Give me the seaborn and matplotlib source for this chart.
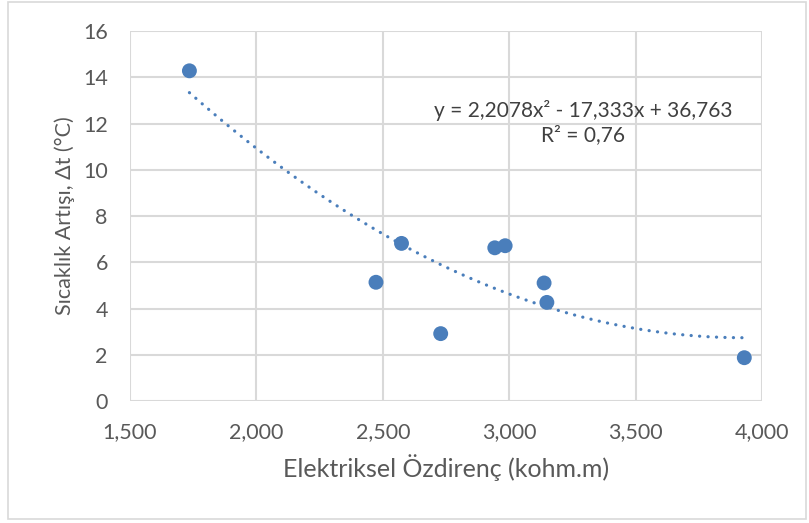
import numpy as np
import pandas as pd
import matplotlib
matplotlib.use("Agg")
import matplotlib.pyplot as plt
from matplotlib.ticker import FuncFormatter, MultipleLocator
from matplotlib.patches import Rectangle
import seaborn as sns

# Measured resistivity (thousand ohm.m) and temperature rise (°C)
resistivity = [1.735, 2.473, 2.574, 2.729, 2.943, 2.984, 3.138, 3.149, 3.930]
temp_rise = [14.28, 5.14, 6.82, 2.92, 6.63, 6.72, 5.11, 4.27, 1.88]

# Second-order polynomial trend: a*x^2 + b*x + c
trend_coef = [2.2078, -17.333, 36.763]
r_squared = 0.76

x_label = "Elektriksel Özdirenç (kohm.m)"
y_label = "Sıcaklık Artışı, Δt (°C)"

sns.set_theme(style="white")
plt.rcParams["font.family"] = ["Lato", "DejaVu Sans"]

df = pd.DataFrame({"x": resistivity, "y": temp_rise})

fig = plt.figure(figsize=(8.09, 5.23), dpi=100)
ax = fig.add_axes([0.1607, 0.2329, 0.7812, 0.7078])

# Chart border
fig.patches.append(Rectangle((8 / 809, 4 / 523), 798 / 809, 517 / 523,
                             transform=fig.transFigure, fill=False,
                             edgecolor="#D9D9D9", lw=1.2))

point_color = "#4A7EBB"

xs = np.linspace(min(resistivity), max(resistivity), 200)
trend = pd.DataFrame({"x": xs, "y": np.polyval(trend_coef, xs)})
sns.lineplot(data=trend, x="x", y="y", ax=ax, color=point_color, lw=2.3,
             linestyle=(0, (0.05, 2.6)), dash_capstyle="round", zorder=3)
sns.scatterplot(data=df, x="x", y="y", ax=ax, color=point_color, s=115,
                edgecolor="none", zorder=4)

ax.set_xlim(1.5, 4.0)
ax.set_ylim(0, 16)
ax.xaxis.set_major_locator(MultipleLocator(0.5))
ax.yaxis.set_major_locator(MultipleLocator(2))
ax.xaxis.set_major_formatter(FuncFormatter(lambda v, p: f"{v:.3f}".replace(".", ",")))
ax.grid(True, color="#D9D9D9", lw=1.5)
ax.set_axisbelow(True)
for s in ax.spines.values():
    s.set_visible(False)
ax.tick_params(axis="both", length=0, labelsize=15.5, colors="#595959")
ax.tick_params(axis="x", pad=15)
ax.tick_params(axis="y", pad=16)

ax.set_xlabel(x_label, fontsize=18, color="#595959", labelpad=9)
ax.set_ylabel(y_label, fontsize=15.5, color="#595959", labelpad=6)

a, b, c = trend_coef
fmt = lambda v: f"{v}".replace(".", ",")
eq = f"y = {fmt(a)}x² - {fmt(-b)}x + {fmt(c)}\nR² = {fmt(r_squared)}"
ax.text(3.292, 12.05, eq, ha="center", va="center", multialignment="center",
        fontsize=15, color="#404040", linespacing=1.3)

fig.savefig("out.png", dpi=100)
